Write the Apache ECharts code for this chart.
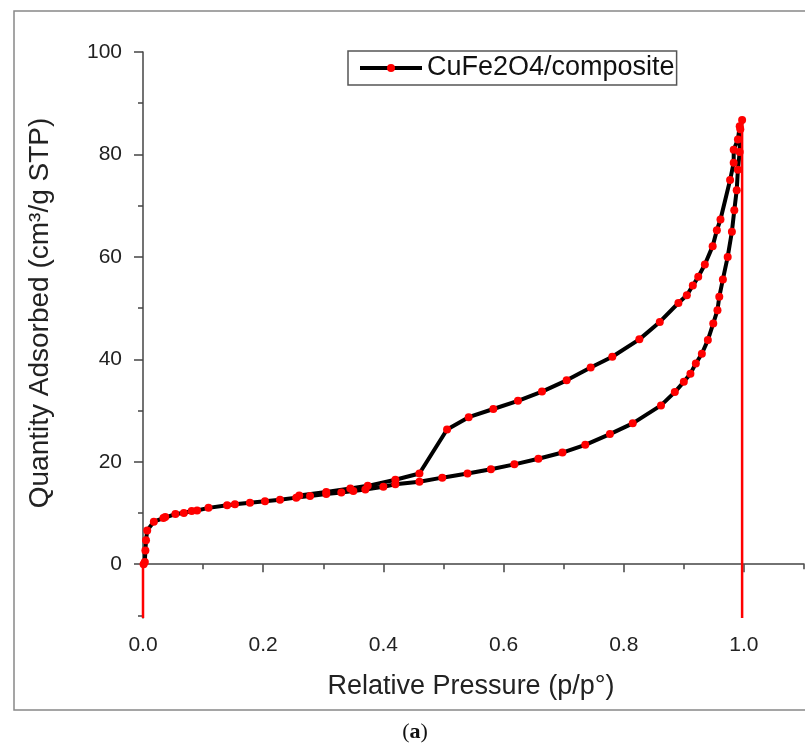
<!DOCTYPE html>
<html>
<head>
<meta charset="utf-8">
<script src="https://cdn.jsdelivr.net/npm/echarts@6/dist/echarts.min.js"></script>
<style>
html,body{margin:0;padding:0;background:#fff;}
#chart{width:805px;height:744px;}
</style>
</head>
<body>
<div id="chart"></div>
<script>
// ---- data ----
const seriesName = 'CuFe2O4/composite';
const adsorptionP = [0.001, 0.003, 0.004, 0.005, 0.007, 0.018, 0.034, 0.037, 0.054, 0.068, 0.081, 0.09, 0.109, 0.14, 0.153, 0.178, 0.203, 0.228, 0.255, 0.278, 0.305, 0.33, 0.35, 0.37, 0.40, 0.42, 0.46, 0.498, 0.54, 0.579, 0.618, 0.658, 0.698, 0.736, 0.777, 0.815, 0.862, 0.885, 0.9, 0.911, 0.92, 0.93, 0.94, 0.949, 0.956, 0.959, 0.965, 0.973, 0.98, 0.984, 0.988, 0.99, 0.993, 0.994, 0.997];
const adsorptionQ = [0.0, 0.45, 2.7, 4.7, 6.6, 8.3, 9.0, 9.2, 9.8, 10.0, 10.4, 10.5, 11.0, 11.5, 11.7, 12.0, 12.3, 12.6, 13.0, 13.3, 13.7, 14.0, 14.3, 14.6, 15.1, 15.6, 16.1, 16.9, 17.7, 18.55, 19.5, 20.6, 21.8, 23.3, 25.4, 27.5, 31.0, 33.6, 35.6, 37.2, 39.2, 41.1, 43.75, 47.0, 49.6, 52.2, 55.6, 60.0, 64.9, 69.1, 73.0, 77.0, 80.5, 84.9, 86.7];
const desorptionP = [0.993, 0.99, 0.983, 0.983, 0.977, 0.961, 0.955, 0.948, 0.935, 0.924, 0.915, 0.905, 0.891, 0.86, 0.826, 0.781, 0.745, 0.705, 0.664, 0.624, 0.583, 0.542, 0.506, 0.46, 0.42, 0.374, 0.345, 0.305, 0.26];
const desorptionQ = [85.5, 82.9, 80.9, 78.4, 75.0, 67.3, 65.2, 62.1, 58.5, 56.1, 54.4, 52.5, 51.0, 47.3, 43.9, 40.5, 38.4, 35.9, 33.7, 31.9, 30.3, 28.7, 26.3, 17.7, 16.5, 15.3, 14.8, 14.1, 13.4];
const dropLineP = [0, 0.997];
const dropLineTop = [0, 86.7];
const xMin = 0, xMax = 1.1;
const yMin = -10.5, yMax = 100;
const xMajorTicks = [0, 0.2, 0.4, 0.6, 0.8, 1.0];
const xMinorTicks = [0.1, 0.3, 0.5, 0.7, 0.9, 1.1];
const yMajorTicks = [0, 20, 40, 60, 80, 100];
const yMinorTicks = [-10, 10, 30, 50, 70, 90];
const xTitle = 'Relative Pressure (p/p°)';
const yTitle = 'Quantity Adsorbed (cm³/g STP)';
const panelLabel = 'a';

// ---- build ----
const isotherm = [];
adsorptionP.forEach((p, i) => isotherm.push([p, adsorptionQ[i]]));
desorptionP.forEach((p, i) => isotherm.push([p, desorptionQ[i]]));

const FONT = '"Liberation Sans", Arial, sans-serif';
const AX = '#444';

function makeX(idx) {
  return {
    type: 'value', min: xMin, max: xMax, position: 'bottom', gridIndex: 0,
    axisLine: { show: idx === 0, lineStyle: { color: AX, width: 1.5 } },
    splitLine: { show: false },
    axisTick: idx === 0
      ? { show: true, inside: false, length: 8, customValues: xMajorTicks, lineStyle: { color: AX, width: 1.5 } }
      : { show: true, inside: false, length: 5, customValues: xMinorTicks, lineStyle: { color: AX, width: 1.5 } },
    axisLabel: idx === 0
      ? { show: true, customValues: xMajorTicks, margin: 17, fontSize: 21, fontFamily: FONT, color: '#222', formatter: v => Number(v).toFixed(1) }
      : { show: false }
  };
}
function makeY(idx) {
  return {
    type: 'value', min: yMin, max: yMax, position: 'left', gridIndex: 0,
    axisLine: { show: idx === 0, lineStyle: { color: AX, width: 1.5 } },
    splitLine: { show: false },
    axisTick: idx === 0
      ? { show: true, inside: false, length: 9, customValues: yMajorTicks, lineStyle: { color: AX, width: 1.5 } }
      : { show: true, inside: false, length: 5, customValues: yMinorTicks, lineStyle: { color: AX, width: 1.5 } },
    axisLabel: idx === 0
      ? { show: true, customValues: yMajorTicks, margin: 21, fontSize: 21, fontFamily: FONT, color: '#222' }
      : { show: false }
  };
}

const chart = echarts.init(document.getElementById('chart'), null, { renderer: 'canvas' });
chart.setOption({
  animation: false,
  backgroundColor: '#fff',
  grid: { left: 143, top: 52, right: 1, bottom: 126, containLabel: false, outerBoundsMode: 'none' },
  xAxis: [makeX(0), makeX(1)],
  yAxis: [makeY(0), makeY(1)],
  legend: {
    data: [seriesName],
    left: 348, top: 51,
    orient: 'horizontal',
    itemWidth: 62, itemHeight: 10,
    padding: [2, 2, 2, 10],
    borderColor: '#555', borderWidth: 1.5, borderRadius: 0,
    backgroundColor: '#fff',
    selectedMode: false,
    lineStyle: { width: 4, color: '#000' },
    textStyle: { fontSize: 27, fontFamily: FONT, color: '#111', lineHeight: 30 }
  },
  series: [
    {
      name: seriesName, type: 'line', data: isotherm,
      xAxisIndex: 0, yAxisIndex: 0,
      symbol: 'circle', symbolSize: 8, showSymbol: true, showAllSymbol: true,
      lineStyle: { color: '#000', width: 4 },
      itemStyle: { color: '#ff0000' },
      z: 3
    },
    {
      type: 'line', data: [[dropLineP[0], yMin], [dropLineP[0], dropLineTop[0]]],
      xAxisIndex: 0, yAxisIndex: 0, symbol: 'none',
      lineStyle: { color: '#ff0000', width: 2.5 }, z: 4, silent: true
    },
    {
      type: 'line', data: [[dropLineP[1], yMin], [dropLineP[1], dropLineTop[1]]],
      xAxisIndex: 0, yAxisIndex: 0, symbol: 'none',
      lineStyle: { color: '#ff0000', width: 2.5 }, z: 4, silent: true
    }
  ],
  graphic: [
    { type: 'rect', z: -1, silent: true,
      shape: { x: 14, y: 11, width: 800, height: 699 },
      style: { fill: 'none', stroke: '#888', lineWidth: 1.5 } },
    { type: 'text', x: 40, y: 313, rotation: Math.PI / 2, silent: true,
      style: { text: yTitle, fontSize: 28, fontFamily: FONT, fill: '#222', align: 'center', verticalAlign: 'middle' } },
    { type: 'text', x: 471, y: 687, silent: true,
      style: { text: xTitle, fontSize: 27, fontFamily: FONT, fill: '#222', align: 'center', verticalAlign: 'middle' } },
    { type: 'text', x: 415, y: 732, silent: true,
      style: { text: '{n|(}{b|' + panelLabel + '}{n|)}', align: 'center', verticalAlign: 'middle',
        rich: {
          n: { fontSize: 22, fontFamily: '"Liberation Serif", "DejaVu Serif", serif', fill: '#111' },
          b: { fontSize: 22, fontWeight: 'bold', fontFamily: '"Liberation Serif", "DejaVu Serif", serif', fill: '#111' }
        } } }
  ]
});
</script>
</body>
</html>
